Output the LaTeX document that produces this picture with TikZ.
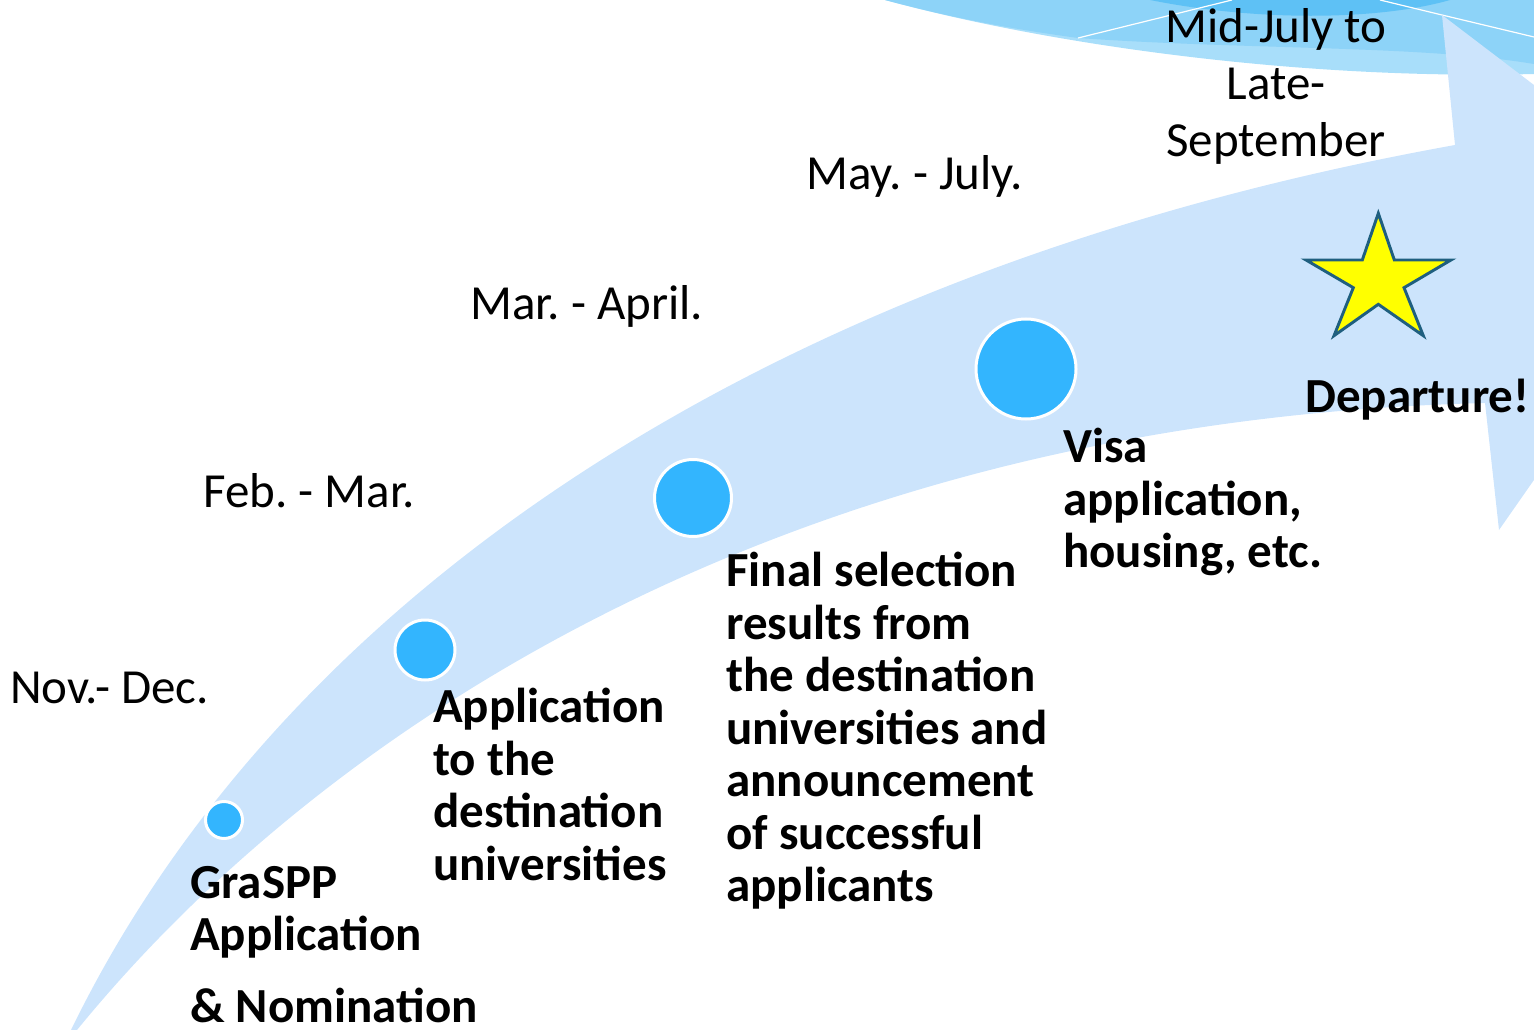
\documentclass[tikz,border=0pt]{standalone}
\usepackage{fontspec}
\setmainfont{Carlito}
\frenchspacing
\definecolor{bandblue}{HTML}{CCE4FC}
\definecolor{dotblue}{HTML}{33B5FE}
\definecolor{decolight}{HTML}{A8DEFA}
\definecolor{decomid}{HTML}{8DD3F8}
\definecolor{decodark}{HTML}{5EC1F5}
\definecolor{starline}{HTML}{1F5F7F}
\definecolor{staryellow}{HTML}{FFFF00}
\tikzset{
  datelbl/.style={font=\fontsize{36.75}{42.75}\selectfont, inner sep=0pt, align=left},
  steplbl/.style={font=\bfseries\fontsize{36.75}{39.4}\selectfont, inner sep=0pt, align=left, anchor=north west},
  dot/.style={circle, fill=dotblue, draw=white, line width=2.25pt, inner sep=0pt},
}
\begin{document}
\begin{tikzpicture}[x=0.75pt,y=-0.75pt]
\useasboundingbox (0,0) rectangle (1534,1030);
\begin{scope}
\clip (0,0) rectangle (1534,1030);
% top-right decoration
\fill[decolight] (885,0) .. controls (1050,45) and (1300,80) .. (1534,74) -- (1534,0) -- cycle;
\fill[decomid] (885,0) .. controls (960,20) and (1020,30) .. (1078,38) .. controls (1250,50) and (1420,45) .. (1534,64) -- (1534,0) -- cycle;
\fill[decodark] (1150,0) .. controls (1260,22) and (1380,20) .. (1450,0) -- cycle;
\draw[white, line width=0.9pt] (1078,38) -- (1232,0);
\draw[white, line width=0.9pt] (1380,0) -- (1442,15) -- (1534,37);
% band arrow
\fill[bandblue] (71,1030) .. controls (280,600) and (760,270) .. (1455,145)
  -- (1442,15) -- (1714,222) -- (1499,530) -- (1485,403)
  .. controls (800,420) and (330,720) .. (77,1030) -- cycle;
\end{scope}
% milestone dots
\node[dot, minimum size=27.75pt] (d1) at (224,820) {};
\node[dot, minimum size=45pt] (d2) at (425,650) {};
\node[dot, minimum size=57.75pt] (d3) at (693,498) {};
\node[dot, minimum size=75pt] (d4) at (1026,369) {};
% star
\draw[starline, fill=staryellow, line width=2.2pt, line join=miter]
  (1378.3,213.3) -- (1394.3,260) -- (1451,260) -- (1404,287.7) -- (1423.3,335.7)
  -- (1378.3,304.3) -- (1334,335.7) -- (1353.3,287.7) -- (1306,260) -- (1362.3,260) -- cycle;
% date labels
\node[datelbl, anchor=base west] (nov) at (10,703) {Nov.- Dec.};
\node[datelbl, anchor=base west] (feb) at (203,507) {Feb. - Mar.};
\node[datelbl, anchor=base west] (mar) at (470,320) {Mar. - April.};
\node[datelbl, anchor=base west] (may) at (806,190) {May. - July.};
\node[datelbl, align=center, anchor=north] (mid) at (1276,8) {Mid-July to\\Late-\\September};
% step labels
\node[steplbl] (s1) at (190,866) {GraSPP\\Application\\[13.9pt]\& Nomination};
\node[steplbl] (s2) at (433,688) {Application\\to the\\destination\\universities};
\node[steplbl] (s3) at (726,552) {Final selection\\results from\\the destination\\universities and\\announcement\\of successful\\applicants};
\node[steplbl] (s4) at (1063,428) {Visa\\application,\\housing, etc.};
\node[steplbl, anchor=base west] (s5) at (1305,412) {Departure!};
\end{tikzpicture}
\end{document}
